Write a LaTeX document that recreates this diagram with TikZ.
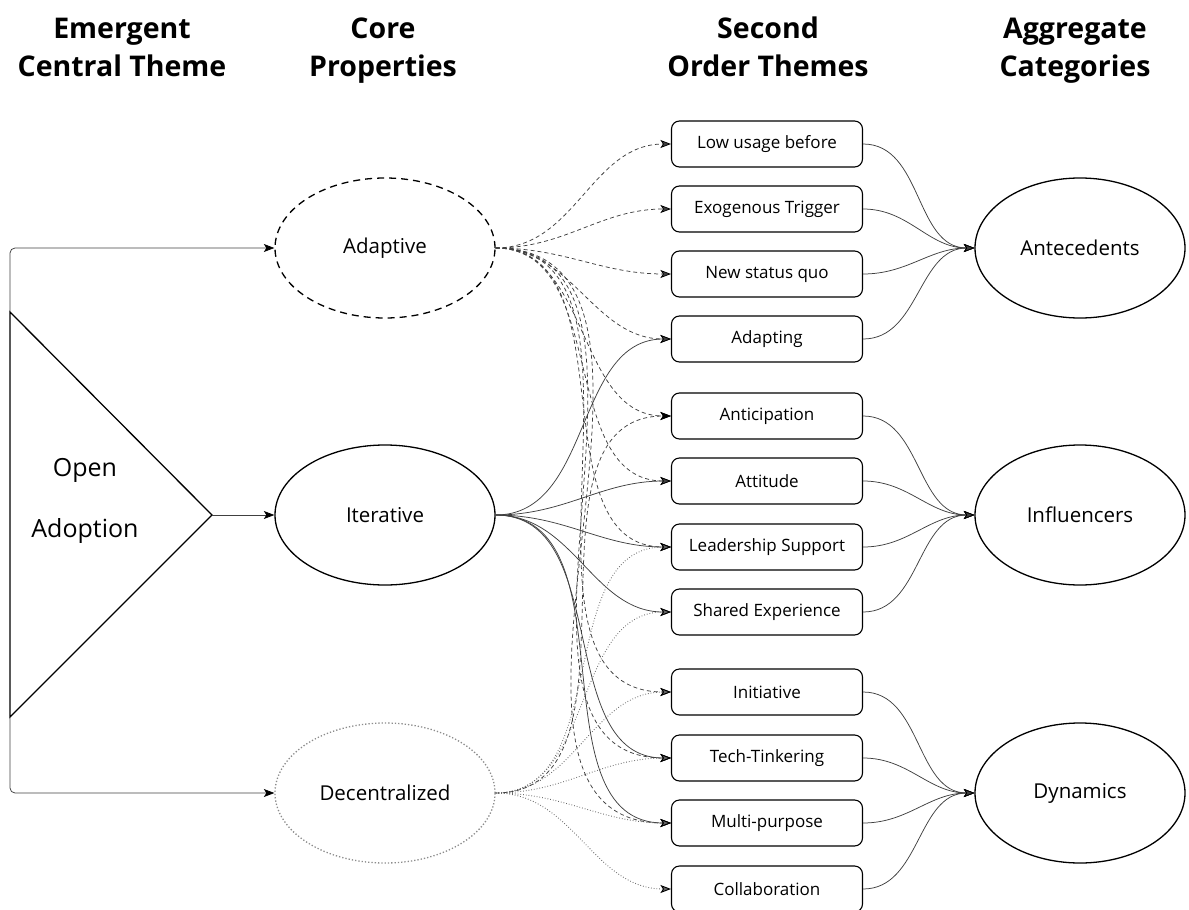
\documentclass[tikz,border=0pt]{standalone}
\usepackage{fontspec}
\setmainfont{Open Sans}
\usetikzlibrary{arrows.meta,shapes.geometric}

\begin{document}
\begin{tikzpicture}[x=1pt, y=-1pt,
   every node/.style={font=\fontsize{17}{21}\selectfont},
   head/.style={align=center, font=\fontsize{28.5}{38}\selectfont\bfseries},
   prop/.style={draw, ellipse, minimum width=220pt, minimum height=140pt,
                line width=1.3pt, font=\fontsize{20.5}{24}\selectfont},
   categ/.style={prop, minimum width=210pt},
   theme/.style={draw, rounded corners=8pt, minimum width=191pt,
                 minimum height=46pt, line width=1.1pt},
   link/.style={color=black!75, line width=0.75pt,
                -{Stealth[length=10.5pt, width=8pt, inset=2.5pt, black]}},
   curve/.style={out=0, in=180},
   adapt/.style={link, dash pattern=on 4pt off 3pt},
   decent/.style={link, color=black!60, dotted, line width=0.9pt},
   iter/.style={link}]

\useasboundingbox (0,0) rectangle (1189,910);

% column heads
\node[head] (h1) at (122,50) {Emergent\strut\\Central Theme\strut};
\node[head] (h2) at (383,50) {Core\strut\\Properties\strut};
\node[head] (h3) at (768,50) {Second\strut\\Order Themes\strut};
\node[head] (h4) at (1075,50) {Aggregate\strut\\Categories\strut};

% emergent central theme
\coordinate (tritop) at (10,312);
\coordinate (tribot) at (10,717);
\coordinate (triapex) at (212,515);
\draw[line width=1.3pt] (tritop) -- (triapex) -- (tribot) -- cycle;
\node[align=center, font=\fontsize{25}{61}\selectfont] (openad) at (85,495) {Open\strut\\Adoption\strut};

% core properties
\node[prop, dash pattern=on 7pt off 5pt] (adaptive) at (385,248) {Adaptive};
\node[prop] (iterative) at (385,515) {Iterative};
\node[prop, draw=black!45, dotted] (decentral) at (385,793) {Decentralized};

% second order themes
\node[theme] (low)        at (767,144) {Low usage before};
\node[theme] (exo)        at (767,209) {Exogenous Trigger};
\node[theme] (statusquo)  at (767,274) {New status quo};
\node[theme] (adapting)   at (767,339) {Adapting};
\node[theme] (anticip)    at (767,416) {Anticipation};
\node[theme] (attitude)   at (767,481) {Attitude};
\node[theme] (leader)     at (767,547) {Leadership Support};
\node[theme] (shared)     at (767,612) {Shared Experience};
\node[theme] (initiative) at (767,692) {Initiative};
\node[theme] (tinker)     at (767,758) {Tech-Tinkering};
\node[theme] (multi)      at (767,823) {Multi-purpose};
\node[theme] (collab)     at (767,889) {Collaboration};

% aggregate categories
\node[categ] (antec) at (1080,248) {Antecedents};
\node[categ] (influ) at (1080,515) {Influencers};
\node[categ] (dyn)   at (1080,793) {Dynamics};

% theme -> properties
\draw[link, rounded corners=5pt] (tritop) |- (adaptive.west);
\draw[link, rounded corners=5pt] (tribot) |- (decentral.west);
\draw[link] (triapex) -- (iterative.west);

% properties -> second order themes
\path[adapt] (adaptive.east)
   edge[curve] (low.west)       edge[curve] (exo.west)
   edge[curve] (statusquo.west) edge[curve] (adapting.west)
   edge[curve] (anticip.west)   edge[curve] (attitude.west)
   edge[curve] (leader.west)    edge[curve] (initiative.west)
   edge[curve] (tinker.west)    edge[curve] (multi.west);
\path[iter] (iterative.east)
   edge[curve] (adapting.west)  edge[curve] (attitude.west)
   edge[curve] (leader.west)    edge[curve] (shared.west)
   edge[curve] (tinker.west)    edge[curve] (multi.west);
\path[decent] (decentral.east)
   edge[curve] (leader.west)    edge[curve] (shared.west)
   edge[curve] (initiative.west) edge[curve] (tinker.west)
   edge[curve] (multi.west)     edge[curve] (collab.west);
\draw[adapt] (decentral.east) to[curve] (anticip.west);

% second order themes -> aggregate categories
\path[link] (low.east) edge[curve] (antec.west)
   (exo.east) edge[curve] (antec.west)
   (statusquo.east) edge[curve] (antec.west)
   (adapting.east) edge[curve] (antec.west);
\path[link] (anticip.east) edge[curve] (influ.west)
   (attitude.east) edge[curve] (influ.west)
   (leader.east) edge[curve] (influ.west)
   (shared.east) edge[curve] (influ.west);
\path[link] (initiative.east) edge[curve] (dyn.west)
   (tinker.east) edge[curve] (dyn.west)
   (multi.east) edge[curve] (dyn.west)
   (collab.east) edge[curve] (dyn.west);

\end{tikzpicture}
\end{document}
